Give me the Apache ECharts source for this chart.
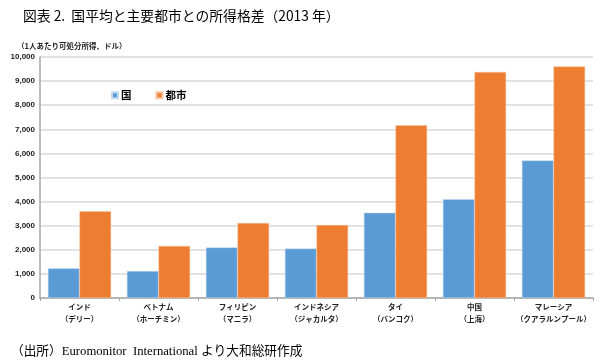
<!DOCTYPE html>
<html><head><meta charset="utf-8">
<script src="https://cdn.jsdelivr.net/npm/echarts@6/dist/echarts.min.js"></script>
<style>html,body{margin:0;padding:0;background:#fff}#c{width:602px;height:363px}</style>
</head><body><div id="c"></div>
<script>
const categories = ['インド\n（デリー）','ベトナム\n（ホーチミン）','フィリピン\n（マニラ）','インドネシア\n（ジャカルタ）','タイ\n（バンコク）','中国\n（上海）','マレーシア\n（クアラルンプール）'];
const countryValues = [1230, 1120, 2100, 2050, 3540, 4100, 5710];
const cityValues = [3600, 2160, 3110, 3030, 7170, 9380, 9610];
const seriesNames = ['国', '都市'];
const yTicks = {min: 0, max: 10000, interval: 1000};

const chart = echarts.init(document.getElementById('c'), null, {renderer: 'canvas'});
const jp = "'Noto Sans CJK JP', sans-serif";
chart.setOption({
  animation: false,
  backgroundColor: '#fff',
  title: [
    {text: '図表 2.  国平均と主要都市との所得格差（2013 年）', left: 18, top: 4,
     textStyle: {fontFamily: jp, fontSize: 13.8, fontWeight: 'normal', color: '#000'}},
    {text: '（1人あたり可処分所得、ドル）', left: 12, top: 37,
     textStyle: {fontFamily: jp, fontSize: 7.5, fontWeight: 'bold', color: '#222'}},
    {text: '（出所）Euromonitor  International より大和総研作成', left: 6, top: 340,
     textStyle: {fontFamily: "'Liberation Serif', 'Noto Sans CJK JP', serif", fontSize: 12.7, fontWeight: 'normal', color: '#000'}}
  ],
  legend: {
    data: seriesNames, left: 106, top: 85, itemWidth: 6, itemHeight: 6, itemGap: 24,
    icon: 'rect',
    textStyle: {fontFamily: jp, fontSize: 10.5, fontWeight: 'bold', color: '#000', padding: [0,0,0,-2]}
  },
  grid: {left: 40, right: 9, top: 57, bottom: 65},
  xAxis: {
    type: 'category', data: categories,
    axisLine: {lineStyle: {color: '#a6a6a6', width: 1.5}},
    axisTick: {show: true, length: 3, lineStyle: {color: '#a6a6a6'}},
    axisLabel: {fontFamily: jp, fontSize: 7.5, fontWeight: 'bold', color: '#222', lineHeight: 12, margin: 3, interval: 0}
  },
  yAxis: {
    type: 'value', min: yTicks.min, max: yTicks.max, interval: yTicks.interval,
    axisLine: {show: true, lineStyle: {color: '#a6a6a6', width: 1.5}},
    axisTick: {show: false},
    splitLine: {lineStyle: {color: '#d9d9d9', width: 1.5}},
    axisLabel: {fontFamily: "'Liberation Sans', Arial, sans-serif", fontSize: 8, fontWeight: 'bold', color: '#222', margin: 5,
      formatter: v => v.toLocaleString('en-US')}
  },
  series: [
    {name: seriesNames[0], type: 'bar', data: countryValues, barGap: '0%', barCategoryGap: '20%',
     itemStyle: {color: '#5B9BD5', borderColor: '#c5daf0', borderWidth: 0.5}},
    {name: seriesNames[1], type: 'bar', data: cityValues, barGap: '0%', barCategoryGap: '20%',
     itemStyle: {color: '#ED7D31', borderColor: '#f7c4a0', borderWidth: 0.5}}
  ]
});
</script></body></html>
